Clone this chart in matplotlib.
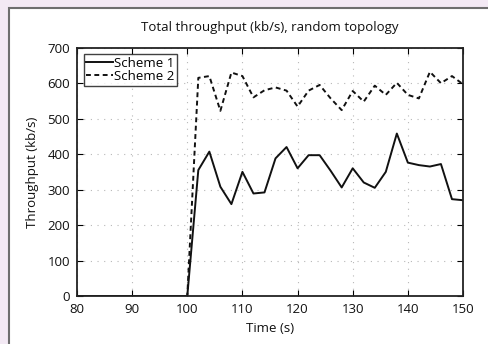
import numpy as np
import matplotlib.pyplot as plt
from matplotlib.patches import Rectangle

plt.rcParams['font.family'] = ['Open Sans', 'DejaVu Sans']

# tiempos (s)
tiempo = [80, 82, 84, 86, 88, 90, 92, 94, 96, 98, 100, 102, 104, 106, 108, 110,
          112, 114, 116, 118, 120, 122, 124, 126, 128, 130, 132, 134, 136, 138,
          140, 142, 144, 146, 148, 150]

esquema1 = [0, 0, 0, 0, 0, 0, 0, 0, 0, 0, 0, 355, 407, 308, 259, 350,
            289, 292, 388, 420, 360, 397, 397, 353, 306, 360, 320, 305, 350, 458,
            376, 369, 365, 372, 273, 270]

esquema2 = [0, 0, 0, 0, 0, 0, 0, 0, 0, 0, 0, 615, 620, 522, 630, 620,
            560, 580, 588, 579, 534, 579, 595, 557, 524, 578, 548, 593, 567, 601,
            567, 557, 632, 600, 620, 597]

x_ticks = [80, 90, 100, 110, 120, 130, 140, 150]
y_ticks = [0, 100, 200, 300, 400, 500, 600, 700]

fig = plt.figure(figsize=(4.88, 3.44), dpi=100, facecolor='#f3e9f4')

# recuadro blanco
fig.patches.append(Rectangle((9 / 488, -0.01), 1.0, 1 - 8 / 344 + 0.01,
                             transform=fig.transFigure, facecolor='white',
                             edgecolor='#6e6e6e', linewidth=1.5, zorder=-10))

ax = fig.add_axes([77 / 488, 1 - 296 / 344, (463 - 77) / 488, (296 - 47.7) / 344])
ax.plot(tiempo, esquema1, color='#111111', linewidth=1.4, linestyle='-', label='Scheme 1')
ax.plot(tiempo, esquema2, color='#111111', linewidth=1.4, linestyle=(0, (2.5, 1.8)), label='Scheme 2')

ax.set_xlim(80, 150)
ax.set_ylim(0, 700)
ax.set_xticks(x_ticks)
ax.set_yticks(y_ticks)
ax.tick_params(direction='in', top=True, right=True, labelsize=9.5, length=4, pad=5,
               labelcolor='#111111')
ax.grid(True, linestyle=(0, (1, 5)), color='#b8b8b8', linewidth=0.8)
for s in ax.spines.values():
    s.set_linewidth(1.3)
    s.set_color('#222222')

ax.set_title('Total throughput (kb/s), random topology', fontsize=9.5, pad=12, color='#111111')
ax.set_xlabel('Time (s)', fontsize=9.5, labelpad=4, color='#111111')
ax.set_ylabel('Throughput (kb/s)', fontsize=9.5, labelpad=6, color='#111111')

leg = ax.legend(loc='upper left', fontsize=9.5, frameon=True, fancybox=False,
                handlelength=2.0, handletextpad=0.1, borderpad=0.2,
                labelspacing=0.0, borderaxespad=0.5)
leg.get_frame().set_edgecolor('#111111')
leg.get_frame().set_linewidth(1.0)

fig.savefig('out.png', dpi=100, facecolor=fig.get_facecolor())
